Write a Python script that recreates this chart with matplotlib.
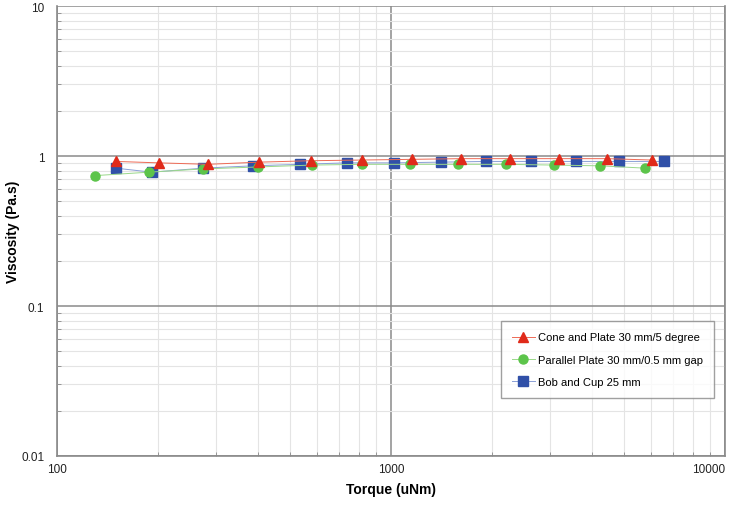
import matplotlib
matplotlib.use("Agg")
import numpy as np
from matplotlib import pyplot as plt
from matplotlib import ticker

plt.rcParams["font.family"] = ["Liberation Sans", "DejaVu Sans"]

# Cone and Plate 30 mm/5 degree
cone_torque = [150, 202, 283, 403, 575, 818, 1156, 1622, 2270, 3183, 4436, 6030]
cone_visc = [0.92, 0.90, 0.88, 0.91, 0.93, 0.94, 0.95, 0.96, 0.96, 0.96, 0.96, 0.94]

# Parallel Plate 30 mm/0.5 mm gap
plate_torque = [130, 188, 274, 399, 579, 818, 1140, 1585, 2207, 3076, 4226, 5755]
plate_visc = [0.74, 0.78, 0.82, 0.845, 0.87, 0.88, 0.88, 0.88, 0.88, 0.87, 0.86, 0.83]

# Bob and Cup 25 mm
bob_torque = [150, 192, 274, 386, 535, 738, 1021, 1413, 1924, 2625, 3580, 4820, 6560]
bob_visc = [0.83, 0.78, 0.83, 0.86, 0.88, 0.90, 0.90, 0.91, 0.92, 0.92, 0.92, 0.92, 0.92]

series_labels = ["Cone and Plate 30 mm/5 degree",
                 "Parallel Plate 30 mm/0.5 mm gap",
                 "Bob and Cup 25 mm"]

fig = plt.figure(figsize=(7.38, 5.06), dpi=100)
ax = fig.add_axes([57 / 738, 49 / 506, 668 / 738, 450 / 506])

ax.plot(cone_torque, cone_visc, color="#ee6a55", lw=0.7, marker="^", ms=7,
        mfc="#e02a1a", mec="#e02a1a", label=series_labels[0], zorder=5)
ax.plot(plate_torque, plate_visc, color="#9ad88a", lw=0.7, marker="o", ms=6.5,
        mfc="#5cc44a", mec="#5cc44a", label=series_labels[1], zorder=4)
ax.plot(bob_torque, bob_visc, color="#8a9fd6", lw=0.7, marker="s", ms=7.5,
        mfc="#3050a8", mec="#3050a8", label=series_labels[2], zorder=3)

ax.set_xscale("log")
ax.set_yscale("log")
ax.set_xlim(100, 10000)
ax.set_ylim(0.01, 10)

ax.xaxis.set_major_locator(ticker.LogLocator(base=10))
ax.yaxis.set_major_locator(ticker.LogLocator(base=10))
ax.xaxis.set_minor_locator(ticker.LogLocator(base=10, subs=np.arange(2, 10)))
ax.yaxis.set_minor_locator(ticker.LogLocator(base=10, subs=np.arange(2, 10)))
ax.xaxis.set_major_formatter(ticker.FuncFormatter(lambda v, p: f"{v:g}"))
ax.yaxis.set_major_formatter(ticker.FuncFormatter(lambda v, p: f"{v:g}"))
ax.xaxis.set_minor_formatter(ticker.NullFormatter())
ax.yaxis.set_minor_formatter(ticker.NullFormatter())

ax.grid(which="major", color="#8a8a8a", lw=1.1)
ax.grid(which="minor", color="#e4e4e4", lw=0.8)
ax.set_axisbelow(True)

ax.tick_params(which="both", direction="in", colors="#888888", labelcolor="#222222",
               labelsize=8.5)
ax.tick_params(which="major", length=0)
ax.tick_params(which="minor", length=3)
ax.tick_params(axis="x", pad=5)
ax.tick_params(axis="y", pad=9)

for side in ["left", "bottom", "right"]:
    ax.spines[side].set_color("#8a8a8a")
    ax.spines[side].set_linewidth(1.2)
ax.spines["top"].set_visible(False)

for lbl in ax.get_xticklabels():
    if lbl.get_text() == "10000":
        lbl.set_horizontalalignment("right")
        lbl.set_x(1.0)

ax.set_xlabel("Torque (uNm)", fontsize=10, fontweight="bold", labelpad=5)
ax.set_ylabel("Viscosity (Pa.s)", fontsize=10, fontweight="bold", labelpad=1)

leg = ax.legend(loc="lower right", bbox_to_anchor=(0.9835, 0.129), borderaxespad=0,
                fontsize=8, frameon=True, fancybox=False, edgecolor="#888888",
                handlelength=2.0, labelspacing=1.1, borderpad=1.0, handletextpad=0.3)
leg.get_frame().set_linewidth(1.0)

fig.savefig("out.png", dpi=100)
